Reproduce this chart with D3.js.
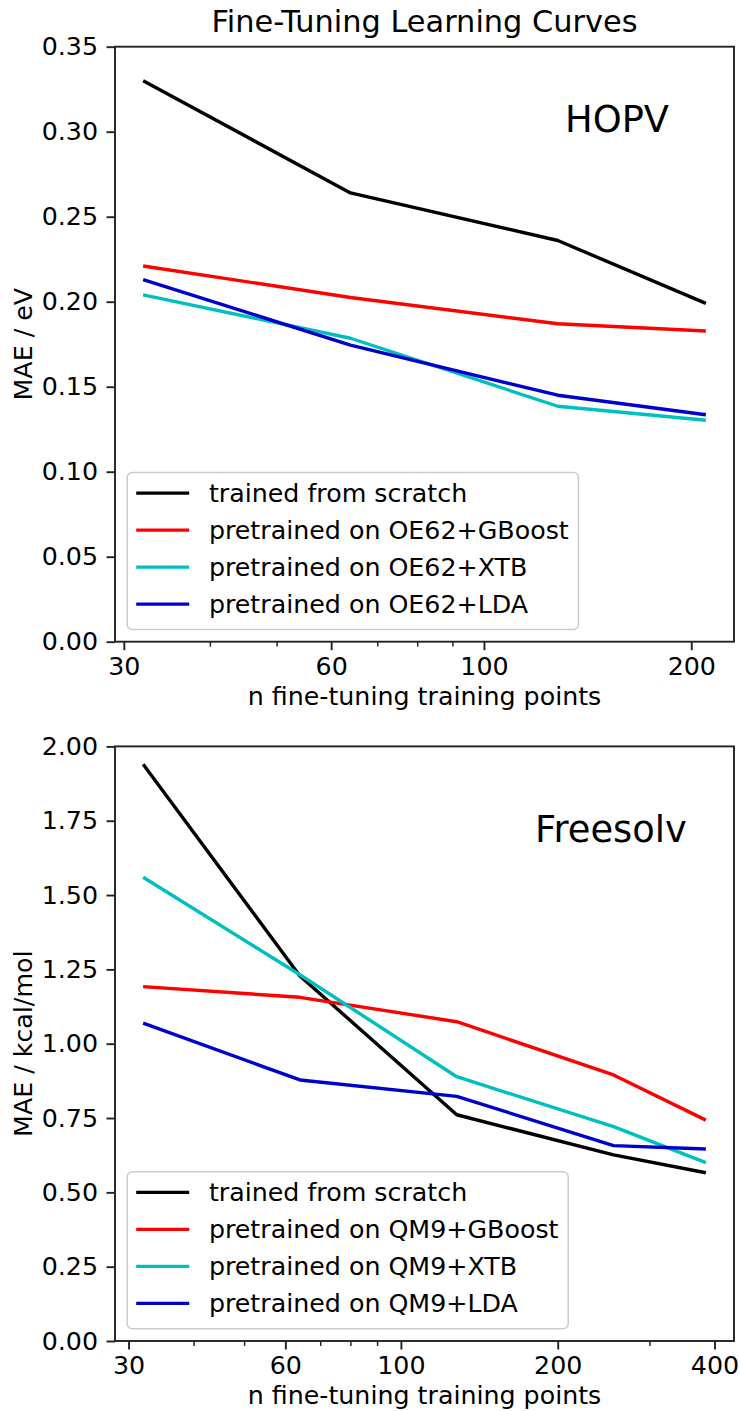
<!DOCTYPE html>
<html>
<head>
<meta charset="utf-8">
<script src="https://d3js.org/d3.v7.min.js"></script>
<style>
	body { margin: 0; background: #fff; }
	text { font-family: "DejaVu Sans", sans-serif; fill: #000; }
</style>
</head>
<body>
<div id="chart"></div>
<script>
// HOPV panel
const hopvN = [32, 64, 128, 210];
const hopvScratch = [0.330, 0.264, 0.236, 0.199];
const hopvGBoost = [0.221, 0.2025, 0.187, 0.1828];
const hopvXTB = [0.204, 0.1785, 0.1385, 0.1303];
const hopvLDA = [0.213, 0.1745, 0.145, 0.1335];
const hopvXTicks = [30, 60, 100, 200];
const hopvYTicks = [0, 0.05, 0.10, 0.15, 0.20, 0.25, 0.30, 0.35];

// Freesolv panel
const freeN = [32, 64, 128, 256, 385];
const freeScratch = [1.940, 1.228, 0.761, 0.626, 0.566];
const freeGBoost = [1.192, 1.156, 1.074, 0.895, 0.743];
const freeXTB = [1.560, 1.232, 0.889, 0.721, 0.600];
const freeLDA = [1.069, 0.878, 0.823, 0.657, 0.646];
const freeXTicks = [30, 60, 100, 200, 400];
const freeYTicks = [0, 0.25, 0.50, 0.75, 1.00, 1.25, 1.50, 1.75, 2.00];

const minorTicks = [40, 50, 70, 80, 90, 300];
const seriesColors = ['#000000', '#ff0000', '#00bfbf', '#0000cd'];

const W = 740, H = 1411;
const fs = 25.3;

const svg = d3.select('#chart').append('svg')
	.attr('width', W).attr('height', H);

svg.append('text')
	.attr('x', 424.5).attr('y', 32)
	.attr('text-anchor', 'middle')
	.style('font-size', '30.4px')
	.text('Fine-Tuning Learning Curves');

const drawPanel = (cfg) => {
	const left = 115, right = 734;
	const { top, bottom } = cfg;
	const g = svg.append('g');

	// log x with matplotlib-like 5% margins
	const lmin = Math.log10(d3.min(cfg.n)), lmax = Math.log10(d3.max(cfg.n));
	const pad = (lmax - lmin) * 0.05;
	const x = d3.scaleLog()
		.domain([Math.pow(10, lmin - pad), Math.pow(10, lmax + pad)])
		.range([left, right]);
	const y = d3.scaleLinear().domain([0, cfg.ymax]).range([bottom, top]);

	// lines
	const line = d3.line().x(d => x(d[0])).y(d => y(d[1]));
	cfg.series.forEach((s, i) => {
		g.append('path')
			.datum(cfg.n.map((n, j) => [n, s.values[j]]))
			.attr('d', line)
			.attr('fill', 'none')
			.attr('stroke', seriesColors[i])
			.attr('stroke-width', 3.4)
			.attr('stroke-linejoin', 'round');
	});

	// x axis
	const xAxis = g.append('g').attr('transform', `translate(0, ${bottom})`)
		.call(d3.axisBottom(x).tickValues(cfg.xTicks).tickFormat(d3.format('d'))
			.tickSize(8.5).tickPadding(7).tickSizeOuter(0));
	const minors = minorTicks.filter(t => t > x.domain()[0] && t < x.domain()[1]);
	g.append('g').attr('transform', `translate(0, ${bottom})`)
		.call(d3.axisBottom(x).tickValues(minors).tickFormat('').tickSize(4.9).tickSizeOuter(0))
		.call(a => a.select('.domain').remove())
		.call(a => a.selectAll('line').attr('stroke-width', 1.45).attr('stroke', '#222'));

	// y axis
	const yAxis = g.append('g').attr('transform', `translate(${left}, 0)`)
		.call(d3.axisLeft(y).tickValues(cfg.yTicks).tickFormat(d3.format('.2f'))
			.tickSize(8.5).tickPadding(8.5).tickSizeOuter(0));

	[xAxis, yAxis].forEach(a => {
		a.select('.domain').remove();
		a.selectAll('.tick line').attr('stroke', '#222').attr('stroke-width', 1.9);
		a.selectAll('.tick text').style('font-size', fs + 'px')
			.style('font-family', '"DejaVu Sans", sans-serif').attr('fill', '#000');
	});

	// frame
	g.append('rect')
		.attr('x', left).attr('y', top)
		.attr('width', right - left).attr('height', bottom - top)
		.attr('fill', 'none').attr('stroke', '#222').attr('stroke-width', 1.9);

	// axis labels
	g.append('text')
		.attr('x', (left + right) / 2).attr('y', bottom + 63)
		.attr('text-anchor', 'middle').style('font-size', fs + 'px')
		.text('n fine-tuning training points');
	g.append('text')
		.attr('transform', `translate(32, ${(top + bottom) / 2}) rotate(-90)`)
		.attr('text-anchor', 'middle').style('font-size', fs + 'px')
		.text(cfg.yLabel);

	// dataset name
	g.append('text')
		.attr('x', left + cfg.nameX).attr('y', top + cfg.nameY)
		.style('font-size', '36.8px')
		.text(cfg.name);

	// legend
	const lgLeft = left + 12.2, lgBottom = bottom - 12.2, lgH = 157;
	const lgTop = lgBottom - lgH;
	const lg = g.append('g');
	const box = lg.append('rect')
		.attr('x', lgLeft).attr('y', lgTop).attr('height', lgH)
		.attr('rx', 5).attr('ry', 5)
		.attr('fill', '#fff').attr('fill-opacity', 0.8)
		.attr('stroke', '#cccccc').attr('stroke-width', 1.5);
	let maxW = 0;
	cfg.series.forEach((s, i) => {
		const cy = lgTop + 20.6 + i * 37;
		lg.append('line')
			.attr('x1', lgLeft + 9).attr('x2', lgLeft + 62)
			.attr('y1', cy).attr('y2', cy)
			.attr('stroke', seriesColors[i]).attr('stroke-width', 3.4);
		const t = lg.append('text')
			.attr('x', lgLeft + 81.7).attr('y', cy).attr('dy', '0.35em')
			.style('font-size', fs + 'px')
			.text(s.label);
		maxW = Math.max(maxW, t.node().getComputedTextLength());
	});
	box.attr('width', 81.7 + maxW + 9.7);
};

drawPanel({
	top: 46.7, bottom: 641.7, ymax: 0.35,
	n: hopvN, xTicks: hopvXTicks, yTicks: hopvYTicks,
	yLabel: 'MAE / eV', name: 'HOPV', nameX: 450, nameY: 85,
	series: [
		{ label: 'trained from scratch', values: hopvScratch },
		{ label: 'pretrained on OE62+GBoost', values: hopvGBoost },
		{ label: 'pretrained on OE62+XTB', values: hopvXTB },
		{ label: 'pretrained on OE62+LDA', values: hopvLDA }
	]
});

drawPanel({
	top: 746.4, bottom: 1341, ymax: 2.0,
	n: freeN, xTicks: freeXTicks, yTicks: freeYTicks,
	yLabel: 'MAE / kcal/mol', name: 'Freesolv', nameX: 420, nameY: 95.3,
	series: [
		{ label: 'trained from scratch', values: freeScratch },
		{ label: 'pretrained on QM9+GBoost', values: freeGBoost },
		{ label: 'pretrained on QM9+XTB', values: freeXTB },
		{ label: 'pretrained on QM9+LDA', values: freeLDA }
	]
});
</script>
</body>
</html>
